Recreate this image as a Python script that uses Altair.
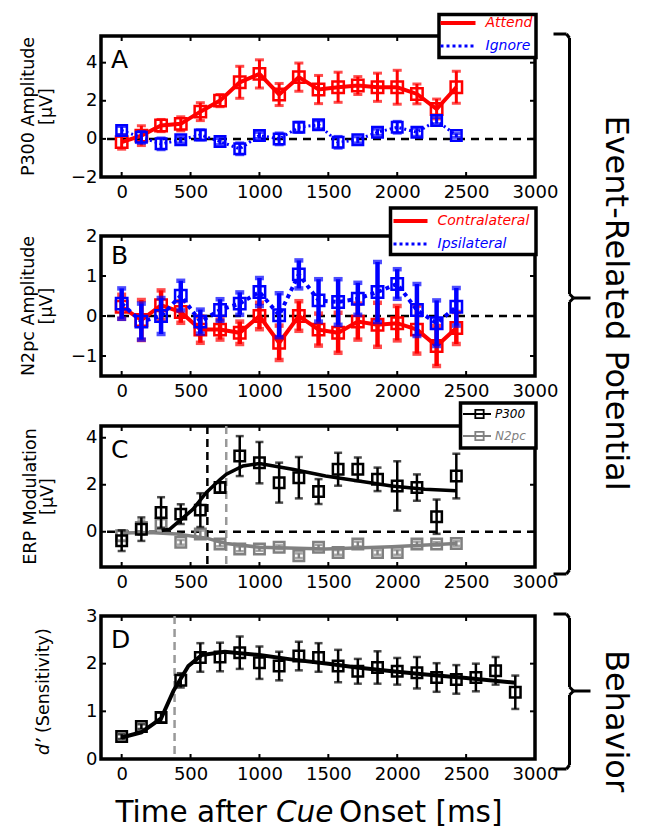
import altair as alt
import pandas as pd

FONT = "DejaVu Sans"

# ---------------- data ----------------
t18 = [0, 143, 286, 429, 571, 714, 857, 1000, 1143, 1286, 1429, 1571, 1714, 1857, 2000, 2143, 2286, 2429]
t21 = t18 + [2571, 2714, 2857]

attend_mean = [-0.17, 0.17, 0.70, 0.79, 1.43, 2.01, 2.97, 3.41, 2.33, 3.24, 2.59, 2.71, 2.80, 2.71, 2.71, 2.36, 1.57, 2.71]
attend_err = [0.37, 0.52, 0.32, 0.37, 0.47, 0.32, 0.84, 0.74, 0.58, 0.74, 0.74, 0.79, 0.47, 0.74, 0.89, 0.52, 0.52, 0.84]
ignore_mean = [0.44, 0.08, -0.26, -0.05, 0.21, -0.14, -0.52, 0.18, 0.0, 0.61, 0.74, -0.18, -0.05, 0.35, 0.61, 0.35, 0.96, 0.18]
ignore_err = [0.21, 0.31, 0.31, 0.16, 0.26, 0.16, 0.31, 0.16, 0.31, 0.26, 0.21, 0.31, 0.16, 0.16, 0.31, 0.21, 0.16, 0.10]

contra_mean = [0.23, -0.10, 0.27, 0.10, -0.34, -0.34, -0.42, 0.0, -0.67, 0.0, -0.34, -0.42, -0.14, -0.22, -0.18, -0.34, -0.75, -0.30]
contra_err = [0.30, 0.50, 0.37, 0.27, 0.33, 0.25, 0.28, 0.33, 0.43, 0.37, 0.40, 0.50, 0.45, 0.55, 0.43, 0.60, 0.50, 0.40]
ipsi_mean = [0.31, -0.14, 0.0, 0.51, -0.14, 0.15, 0.31, 0.60, 0.02, 1.04, 0.39, 0.35, 0.43, 0.60, 0.80, 0.15, -0.18, 0.23]
ipsi_err = [0.38, 0.45, 0.45, 0.37, 0.30, 0.27, 0.28, 0.35, 0.55, 0.35, 0.53, 0.57, 0.40, 0.75, 0.37, 0.65, 0.57, 0.47]

p300mod_mean = [-0.38, 0.11, 0.82, 0.75, 0.92, 1.88, 3.22, 2.94, 2.09, 2.30, 1.71, 2.66, 2.66, 2.23, 1.95, 1.88, 0.64, 2.37]
p300mod_err = [0.44, 0.50, 0.65, 0.42, 0.72, 0.20, 0.85, 0.88, 0.85, 0.88, 0.53, 0.70, 0.50, 0.50, 1.05, 0.56, 0.73, 0.95]
n2pcmod_mean = [-0.17, 0.18, 0.33, -0.45, -0.10, -0.52, -0.73, -0.73, -0.66, -1.02, -0.66, -0.88, -0.52, -0.88, -0.88, -0.52, -0.52, -0.50]
n2pcmod_err = [0.20, 0.30, 0.20, 0.10, 0.15, 0.10, 0.10, 0.08, 0.08, 0.10, 0.10, 0.10, 0.10, 0.10, 0.10, 0.10, 0.08, 0.10]

p300fit_t = [290, 350, 434, 518, 615, 714, 760, 880, 1000, 1240, 1480, 1720, 1960, 2200, 2429]
p300fit_v = [0.05, 0.11, 0.54, 0.96, 1.67, 2.22, 2.45, 2.80, 2.90, 2.66, 2.37, 2.16, 1.95, 1.81, 1.74]
n2pcfit_t = [0, 200, 400, 615, 760, 1000, 1480, 1960, 2429]
n2pcfit_v = [-0.05, -0.03, -0.10, -0.27, -0.50, -0.66, -0.73, -0.64, -0.50]

dprime_mean = [0.47, 0.68, 0.87, 1.65, 2.13, 2.14, 2.23, 2.02, 1.95, 2.16, 2.13, 1.95, 1.84, 1.92, 1.84, 1.81, 1.71, 1.67, 1.71, 1.85, 1.40]
dprime_err = [0.05, 0.05, 0.10, 0.15, 0.30, 0.30, 0.34, 0.34, 0.30, 0.30, 0.30, 0.34, 0.26, 0.34, 0.28, 0.33, 0.30, 0.30, 0.29, 0.29, 0.35]
dfit_t = [0, 143, 286, 376, 484, 580, 748, 1000, 1228, 1500, 1707, 2000, 2187, 2500, 2858]
dfit_v = [0.45, 0.56, 0.85, 1.43, 1.95, 2.18, 2.25, 2.18, 2.09, 2.00, 1.92, 1.83, 1.78, 1.70, 1.60]

onset_c_p300 = [622]
onset_c_n2pc = [759]
onset_d = [384]

x_ticks = [0, 500, 1000, 1500, 2000, 2500, 3000]

W = 434
RED, BLUE, GRAY = "#ff0000", "#0000ff", "#808080"


def frame(mean, err, t):
    return pd.DataFrame({"t": t, "m": mean,
                         "lo": [a - b for a, b in zip(mean, err)],
                         "hi": [a + b for a, b in zip(mean, err)]})


def encs(dom, yvals):
    x = alt.X("t:Q", scale=alt.Scale(domain=[-150, 3000], nice=False, zero=False),
              axis=alt.Axis(values=x_ticks, format="d", title=None, grid=False, domain=False,
                            ticks=False, labelFontSize=18, labelFont=FONT, labelColor="black",
                            labelPadding=6, labelFlush=False, labelOverlap=False))
    ysc = alt.Scale(domain=dom, nice=False, zero=False)
    yax = alt.Axis(values=yvals, format="d", title=None, grid=False, domain=False, ticks=False,
                   labelFontSize=18, labelFont=FONT, labelColor="black", labelPadding=4,
                   labelFlush=False, labelOverlap=False)
    return x, ysc, yax


def series(df, color, dom, yvals, line=True, dash=None, lw=4, ew=3, sq=130, cap=9, sw=2.5):
    x, ysc, yax = encs(dom, yvals)
    base = alt.Chart(df)
    layers = []
    if line:
        kw = dict(color=color, strokeWidth=lw)
        if dash:
            kw["strokeDash"] = dash
        layers.append(base.mark_line(**kw).encode(x=x, y=alt.Y("m:Q", scale=ysc, axis=yax)))
    layers.append(base.mark_rule(color=color, strokeWidth=ew).encode(
        x=x, y=alt.Y("lo:Q", scale=ysc, axis=yax), y2="hi:Q"))
    layers.append(base.mark_tick(color=color, orient="horizontal", size=cap, thickness=ew).encode(
        x=x, y=alt.Y("lo:Q", scale=ysc, axis=yax)))
    layers.append(base.mark_tick(color=color, orient="horizontal", size=cap, thickness=ew).encode(
        x=x, y=alt.Y("hi:Q", scale=ysc, axis=yax)))
    layers.append(base.mark_point(shape="square", filled=False, color=color, size=sq,
                                  strokeWidth=sw, opacity=1).encode(
        x=x, y=alt.Y("m:Q", scale=ysc, axis=yax)))
    return layers


def inner_ticks(dom, yvals, H):
    x, ysc, yax = encs(dom, yvals)
    xt = alt.Chart(pd.DataFrame({"t": x_ticks}))
    yt = alt.Chart(pd.DataFrame({"v": yvals}))
    return [
        xt.mark_rule(color="black", strokeWidth=2).encode(x=x, y=alt.value(H), y2=alt.value(H - 5)),
        xt.mark_rule(color="black", strokeWidth=2).encode(x=x, y=alt.value(0), y2=alt.value(5)),
        yt.mark_rule(color="black", strokeWidth=2).encode(y=alt.Y("v:Q", scale=ysc, axis=yax),
                                                          x=alt.value(0), x2=alt.value(5)),
        yt.mark_rule(color="black", strokeWidth=2).encode(y=alt.Y("v:Q", scale=ysc, axis=yax),
                                                          x=alt.value(W - 5), x2=alt.value(W)),
    ]


def fitline(ts, vs, color, dom, yvals, lw=3.5):
    x, ysc, yax = encs(dom, yvals)
    return alt.Chart(pd.DataFrame({"t": ts, "m": vs})).mark_line(
        color=color, strokeWidth=lw).encode(x=x, y=alt.Y("m:Q", scale=ysc, axis=yax))


def zero_line():
    return alt.Chart(pd.DataFrame({"z": [0]})).mark_rule(
        color="black", strokeWidth=2.5, strokeDash=[8, 6]).encode(y="z:Q")


def vline(ts, color):
    return alt.Chart(pd.DataFrame({"t": ts})).mark_rule(
        color=color, strokeWidth=2.5, strokeDash=[8, 5]).encode(x="t:Q")


def txt(s, x, y, size=18, color="black", style="normal", align="left", baseline="alphabetic", angle=0):
    return alt.Chart(pd.DataFrame({"s": [s]})).mark_text(
        font=FONT, fontSize=size, color=color, fontStyle=style, align=align,
        baseline=baseline, angle=angle).encode(text="s:N", x=alt.value(x), y=alt.value(y))


def rule(x1, y1, x2, y2, color="black", w=3, dash=None):
    kw = dict(color=color, strokeWidth=w)
    if dash:
        kw["strokeDash"] = dash
    return alt.Chart(pd.DataFrame({"a": [0]})).mark_rule(**kw).encode(
        x=alt.value(x1), y=alt.value(y1), x2=alt.value(x2), y2=alt.value(y2))


def box(x1, y1, x2, y2):
    return alt.Chart(pd.DataFrame({"a": [0]})).mark_rect(
        fill="white", stroke="black", strokeWidth=3.5).encode(
        x=alt.value(x1), y=alt.value(y1), x2=alt.value(x2), y2=alt.value(y2))


def ytitle(lines, xs, yc, size=17.5):
    out = []
    for s, xx in zip(lines, xs):
        out.append(txt(s, xx, yc, size=size, align="center", angle=270))
    return out


def brace(x0, top, tip, bottom):
    return [rule(x0 - 16, top, x0 - 3, top), rule(x0 - 3, top, x0, top + 4),
            rule(x0, top + 4, x0, tip - 4), rule(x0, tip - 4, x0 + 4, tip),
            rule(x0 + 4, tip, x0 + 21, tip),
            rule(x0 + 4, tip, x0, tip + 4), rule(x0, tip + 4, x0, bottom - 4),
            rule(x0, bottom - 4, x0 - 3, bottom), rule(x0 - 3, bottom, x0 - 16, bottom)]


# ---------------- Panel A ----------------
HA = 141
domA, yvA = [-2, 5.4], [-2, 0, 2, 4]
A_layers = [zero_line()] + inner_ticks(domA, yvA, HA)
A_layers += series(frame(attend_mean, attend_err, t18), RED, domA, yvA, lw=4)
A_layers += series(frame(ignore_mean, ignore_err, t18), BLUE, domA, yvA, dash=[2, 3], lw=3, sq=110)
A_layers += [txt("A", 10, 32, size=25)]
A_layers += ytitle(["P300 Amplitude", "[μV]"], [-67, -49.5], HA / 2)
A_layers += [box(338, -21.5, 435, 21.5),
             rule(339.5, -13, 374.5, -13, RED, 4),
             rule(339.5, 10, 374.5, 10, BLUE, 3, [3, 3]),
             txt("Attend", 384.5, -13, size=14, color=RED, style="italic", baseline="middle"),
             txt("Ignore", 384.5, 10, size=14, color=BLUE, style="italic", baseline="middle")]
A_layers += brace(468.5, -2, 262, 538)
A_layers += [txt("Event-Related Potential", 505, 267, size=32, align="center", angle=90)]
panelA = alt.layer(*A_layers).properties(width=W, height=HA)

# ---------------- Panel B ----------------
HB = 140
domB, yvB = [-1.5, 2], [-1, 0, 1, 2]
B_layers = [zero_line()] + inner_ticks(domB, yvB, HB)
B_layers += series(frame(contra_mean, contra_err, t18), RED, domB, yvB, lw=4, ew=4.5)
B_layers += series(frame(ipsi_mean, ipsi_err, t18), BLUE, domB, yvB, dash=[4, 4], lw=4, ew=4.5)
B_layers += [txt("B", 10, 28, size=25)]
B_layers += ytitle(["N2pc Amplitude", "[μV]"], [-67, -49.5], HB / 2)
B_layers += [box(289.5, -28, 435, 18.5),
             rule(292.5, -15, 326.5, -15, RED, 4),
             rule(292.5, 8, 326.5, 8, BLUE, 3, [3, 3]),
             txt("Contralateral", 336.5, -15, size=14, color=RED, style="italic", baseline="middle"),
             txt("Ipsilateral", 336.5, 8, size=14, color=BLUE, style="italic", baseline="middle")]
panelB = alt.layer(*B_layers).properties(width=W, height=HB)

# ---------------- Panel C ----------------
HC = 141
domC, yvC = [-1.5, 4.5], [0, 2, 4]
C_layers = [zero_line(), vline(onset_c_p300, "black"), vline(onset_c_n2pc, "#999999")]
C_layers += inner_ticks(domC, yvC, HC)
C_layers += [fitline(n2pcfit_t, n2pcfit_v, GRAY, domC, yvC)]
C_layers += series(frame(n2pcmod_mean, n2pcmod_err, t18), GRAY, domC, yvC, line=False, ew=2.5, sq=110, cap=8, sw=2.5)
C_layers += [fitline(p300fit_t, p300fit_v, "black", domC, yvC)]
C_layers += series(frame(p300mod_mean, p300mod_err, t18), "black", domC, yvC, line=False, ew=2.5, sq=110, cap=8, sw=2.5)
C_layers += [txt("C", 10, 32, size=25)]
C_layers += ytitle(["ERP Modulation", "[μV]"], [-65.5, -48], HC / 2)
C_layers += [box(359.5, -23, 435, 22),
             rule(362, -12, 390, -12, "black", 2),
             rule(362, 10, 390, 10, GRAY, 2),
             alt.Chart(pd.DataFrame({"a": [0, 1], "c": ["black", GRAY], "yy": [-12, 10]})).mark_point(
                 shape="square", filled=False, size=70, strokeWidth=1.8, opacity=1).encode(
                 x=alt.value(378.5), y=alt.Y("yy:Q", scale=None),
                 color=alt.Color("c:N", scale=None)),
             txt("P300", 394, -12, size=12, color="black", style="italic", baseline="middle"),
             txt("N2pc", 394, 10, size=12, color=GRAY, style="italic", baseline="middle")]
panelC = alt.layer(*C_layers).properties(width=W, height=HC)

# ---------------- Panel D ----------------
HD = 143
domD, yvD = [0, 3], [0, 1, 2, 3]
D_layers = [vline(onset_d, "#999999")] + inner_ticks(domD, yvD, HD)
D_layers += [fitline(dfit_t, dfit_v, "black", domD, yvD, lw=4)]
D_layers += series(frame(dprime_mean, dprime_err, t21), "black", domD, yvD, line=False, ew=2.5, sq=110, cap=8, sw=2.5)
D_layers += [txt("D", 10, 32, size=25)]
D_layers += [txt("d’", -52, 139, size=17.5, style="italic", align="left", angle=270),
             txt("(Sensitivity)", -52, 117, size=17.5, align="left", angle=270)]
D_layers += [txt("Time after", 14.5, 197, size=29.5, baseline="middle"),
             txt("Cue", 175, 197, size=29.5, style="italic", baseline="middle"),
             txt("Onset [ms]", 238, 197, size=29.5, baseline="middle")]
D_layers += brace(468.5, -2, 75, 153)
D_layers += [txt("Behavior", 505, 105, size=32, align="center", angle=90)]
panelD = alt.layer(*D_layers).properties(width=W, height=HD)

inner = alt.vconcat(panelC, panelD, spacing=49, bounds="flush")
mid = alt.vconcat(panelB, inner, spacing=50, bounds="flush")
chart = alt.vconcat(panelA, mid, spacing=59, bounds="flush").properties(
    padding={"left": 10, "top": 3, "right": 4, "bottom": 0}, background="white"
).configure_view(stroke="black", strokeWidth=3.5)

chart.save("out.html", embed_options={"renderer": "svg", "actions": False})
